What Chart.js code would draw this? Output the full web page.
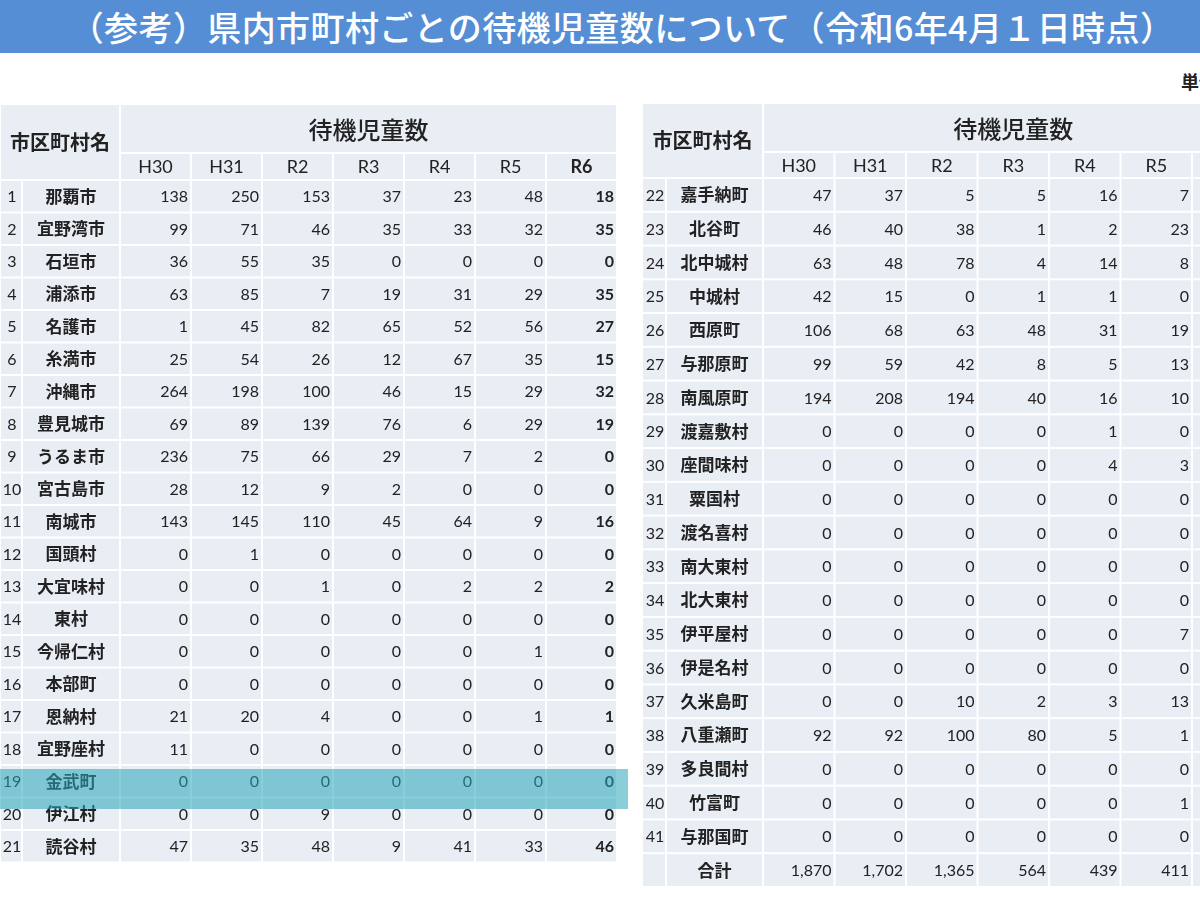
<!DOCTYPE html>
<html>
<head>
<meta charset="utf-8">
<script src="https://cdn.jsdelivr.net/npm/chart.js@4.4.1/dist/chart.umd.min.js"></script>
<style>
html,body{margin:0;padding:0;background:#fff;}
body{width:1200px;height:900px;overflow:hidden;position:relative;}
#title{position:absolute;left:0;top:0;width:1200px;height:53px;background:#558ed5;color:#fff;
  font:500 34px "Noto Sans CJK JP",sans-serif;line-height:53px;text-align:center;box-sizing:border-box;padding-left:44px;white-space:nowrap;letter-spacing:0.4px;}
#unit{position:absolute;left:1181px;top:68px;font:bold 18px "Noto Sans CJK JP",sans-serif;color:#222;white-space:nowrap;}
#left{position:absolute;left:0;top:104px;}
#right{position:absolute;left:642px;top:103px;}
</style>
</head>
<body>
<div id="title">（参考）県内市町村ごとの待機児童数について（令和6年4月１日時点）</div>
<div id="unit">単位：人</div>
<canvas id="left" width="630" height="764"></canvas>
<canvas id="right" width="558" height="790"></canvas>
<script>
// ---- data ----
const years = ['H30', 'H31', 'R2', 'R3', 'R4', 'R5', 'R6'];
const groupLabel = '待機児童数';
const nameHeader = '市区町村名';
const cityNames = [
  '那覇市','宜野湾市','石垣市','浦添市','名護市','糸満市','沖縄市','豊見城市','うるま市','宮古島市',
  '南城市','国頭村','大宜味村','東村','今帰仁村','本部町','恩納村','宜野座村','金武町','伊江村','読谷村',
  '嘉手納町','北谷町','北中城村','中城村','西原町','与那原町','南風原町','渡嘉敷村','座間味村','粟国村',
  '渡名喜村','南大東村','北大東村','伊平屋村','伊是名村','久米島町','八重瀬町','多良間村','竹富町','与那国町'
];
const h30 = [138,99,36,63,1,25,264,69,236,28,143,0,0,0,0,0,21,11,0,0,47,
             47,46,63,42,106,99,194,0,0,0,0,0,0,0,0,0,92,0,0,0];
const h31 = [250,71,55,85,45,54,198,89,75,12,145,1,0,0,0,0,20,0,0,0,35,
             37,40,48,15,68,59,208,0,0,0,0,0,0,0,0,0,92,0,0,0];
const r2  = [153,46,35,7,82,26,100,139,66,9,110,0,1,0,0,0,4,0,0,9,48,
             5,38,78,0,63,42,194,0,0,0,0,0,0,0,0,10,100,0,0,0];
const r3  = [37,35,0,19,65,12,46,76,29,2,45,0,0,0,0,0,0,0,0,0,9,
             5,1,4,1,48,8,40,0,0,0,0,0,0,0,0,2,80,0,0,0];
const r4  = [23,33,0,31,52,67,15,6,7,0,64,0,2,0,0,0,0,0,0,0,41,
             16,2,14,1,31,5,16,1,4,0,0,0,0,0,0,3,5,0,0,0];
const r5  = [48,32,0,29,56,35,29,29,2,0,9,0,2,0,1,0,1,0,0,0,33,
             7,23,8,0,19,13,10,0,3,0,0,0,0,7,0,13,1,0,1,0];
// R6 column of the right table is cut off in the source picture
const r6  = [18,35,0,35,27,15,32,19,0,0,16,0,2,0,0,0,1,0,0,0,46];
const totalLabel = '合計';
const totals = [1870, 1702, 1365, 564, 439, 411];
const highlightCity = 19;

const series = [h30, h31, r2, r3, r4, r5, r6];

// ---- layout / style ----
const CELL_BG = '#e9edf4';
const TXT = '#222';
const NUM_FONT = '"Lato","Liberation Sans",sans-serif';
const JP_FONT = '"Noto Sans CJK JP",sans-serif';

function rowsFor(from, to) {
  const rows = [];
  for (let i = from; i < to; i++) {
    rows.push({ no: String(i + 1), name: cityNames[i], vals: series.map(s => s[i]), city: i + 1 });
  }
  return rows;
}

const leftRows = rowsFor(0, 21);
const rightRows = rowsFor(21, 41);
rightRows.push({ no: '', name: totalLabel, vals: totals, city: null });

function drawTable(chart, t) {
  const ctx = chart.ctx, xs = chart.scales.x, ys = chart.scales.y;
  const xe = [0];
  t.colW.forEach(w => xe.push(xe[xe.length - 1] + w));
  const ye = [0, t.headH[0], t.headH[0] + t.headH[1]];
  t.rows.forEach((r, i) => ye.push(ye[2] + (i + 1) * t.rowH));
  const px = v => xs.getPixelForValue(v), py = v => ys.getPixelForValue(v);
  const cell = (c0, c1, r0, r1) => {
    const x0 = px(xe[c0]) + 1, x1 = px(xe[c1]) - 1, y0 = py(ye[r0]) + 1, y1 = py(ye[r1]) - 1;
    ctx.fillStyle = CELL_BG;
    ctx.fillRect(x0, y0, x1 - x0, y1 - y0);
    return { x0, x1, cx: (x0 + x1) / 2, cy: (y0 + y1) / 2 };
  };
  const text = (s, x, y, font, align) => {
    ctx.font = font; ctx.textAlign = align; ctx.textBaseline = 'middle';
    ctx.fillStyle = TXT; ctx.fillText(s, x, y);
  };
  ctx.save();
  const nc = t.colW.length;
  // header
  let c = cell(0, 2, 0, 2);
  text(nameHeader, c.cx, c.cy, 'bold 20px ' + JP_FONT, 'center');
  c = cell(2, nc, 0, 1);
  text(groupLabel, px((xe[2] + xe[2 + 7]) / 2), c.cy + 1, '500 24px ' + JP_FONT, 'center');
  years.forEach((y, j) => {
    if (2 + j >= nc) return;
    const k = cell(2 + j, 3 + j, 1, 2);
    text(y, k.cx, k.cy + 1, (j === 6 ? 'bold ' : '') + '18px ' + NUM_FONT, 'center');
  });
  // body
  t.rows.forEach((r, i) => {
    const ri = 2 + i;
    let k = cell(0, 1, ri, ri + 1);
    text(r.no, k.cx + 1, k.cy + 1, '16px ' + NUM_FONT, 'center');
    k = cell(1, 2, ri, ri + 1);
    text(r.name, k.cx, k.cy, 'bold 17px ' + JP_FONT, 'center');
    for (let j = 0; j < nc - 2; j++) {
      k = cell(2 + j, 3 + j, ri, ri + 1);
      const v = r.vals[j];
      if (v === undefined) continue;
      text(v.toLocaleString('en-US'), k.x1 - 2, k.cy + 1, (j === 6 ? 'bold ' : '') + '16px ' + NUM_FONT, 'right');
    }
  });
  // highlighted row
  if (t.highlight) {
    const idx = t.rows.findIndex(r => r.city === t.highlight);
    if (idx >= 0) {
      const y0 = py(ye[2 + idx] + 4), y1 = py(ye[2 + idx] + 44);
      ctx.fillStyle = 'rgba(40,165,185,0.55)';
      ctx.fillRect(px(0), y0, px(xe[nc] + 11) - px(0), y1 - y0);
    }
  }
  ctx.restore();
}

const tablePlugin = {
  id: 'tableCells',
  afterDraw(chart, args, opts) { drawTable(chart, opts); }
};

function makeTable(id, t) {
  const el = document.getElementById(id);
  return new Chart(el, {
    type: 'scatter',
    data: { datasets: [{ data: [] }] },
    options: {
      responsive: false,
      animation: false,
      events: [],
      layout: { padding: 0 },
      plugins: { legend: { display: false }, tooltip: { enabled: false }, tableCells: t },
      scales: {
        x: { type: 'linear', display: false, min: 0, max: el.width },
        y: { type: 'linear', display: false, min: 0, max: el.height, reverse: true }
      }
    },
    plugins: [tablePlugin]
  });
}

makeTable('left', { colW: [22, 98, 71, 71, 71, 71, 71, 71, 71], headH: [49, 27], rowH: 32.5, rows: leftRows, highlight: highlightCity });
makeTable('right', { colW: [24, 97, 71.5, 71.5, 71.5, 71.5, 71.5, 71.5, 71.5], headH: [49, 26], rowH: 33.76, rows: rightRows, highlight: null });
</script>
</body>
</html>
